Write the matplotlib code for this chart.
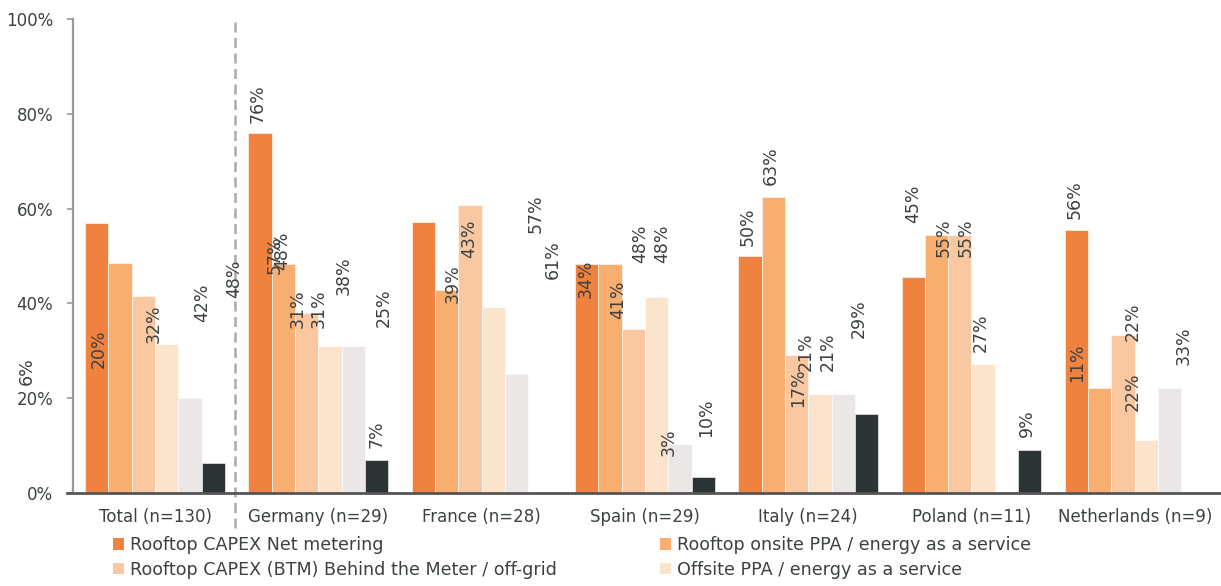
import matplotlib
matplotlib.use("Agg")
import matplotlib.pyplot as plt
import numpy as np
from matplotlib.patches import Patch

plt.rcParams.update({
    "font.family": ["DejaVu Sans"],
    "font.size": 12,
    "text.color": "#3c4144",
    "xtick.color": "#3c4144",
    "ytick.color": "#999999",
    "ytick.labelcolor": "#3c4144",
    "xtick.labelcolor": "#3c4144",
})

categories = ["Total (n=130)", "Germany (n=29)", "France (n=28)", "Spain (n=29)",
              "Italy (n=24)", "Poland (n=11)", "Netherlands (n=9)"]

# share of respondents (%) per category
capex_net = [56.9, 75.9, 57.1, 48.3, 50.0, 45.5, 55.6]
onsite_ppa = [48.5, 48.3, 42.9, 48.3, 62.5, 54.5, 22.2]
capex_btm = [41.5, 37.9, 60.7, 34.5, 29.2, 54.5, 33.3]
offsite_ppa = [31.5, 31.0, 39.3, 41.4, 20.8, 27.3, 11.1]
series5 = [20.0, 31.0, 25.0, 10.3, 20.8, 0.0, 22.2]
series6 = [6.2, 6.9, 0.0, 3.4, 16.7, 9.1, 0.0]

series_names = ["Rooftop CAPEX Net metering",
                "Rooftop onsite PPA / energy as a service",
                "Rooftop CAPEX (BTM) Behind the Meter / off-grid",
                "Offsite PPA / energy as a service",
                "", ""]

# value labels as they sit in the source picture (category units, %)
label_text = ["6%", "20%", "32%", "42%", "48%", "76%", "57%", "48%", "31%", "31%",
              "38%", "7%", "25%", "39%", "43%", "57%", "61%", "34%", "41%", "48%",
              "48%", "3%", "10%", "50%", "63%", "17%", "21%", "21%", "29%", "45%",
              "55%", "55%", "27%", "9%", "56%", "11%", "22%", "22%", "33%"]
label_x = [-0.786, -0.343, -0.006, 0.286, 0.482, 0.630, 0.730, 0.778, 0.871, 1.004,
           1.157, 1.358, 1.402, 1.821, 1.925, 2.331, 2.433, 2.639, 2.837, 2.970,
           3.107, 3.146, 3.372, 3.627, 3.772, 3.936, 3.985, 4.119, 4.311, 4.644,
           4.832, 4.964, 5.058, 5.342, 5.630, 5.648, 5.985, 5.985, 6.301]
label_y = [22.8, 26.3, 31.6, 36.1, 41.1, 78.2, 46.2, 47.1, 34.7, 34.7,
           41.8, 9.4, 35.1, 40.0, 49.5, 54.8, 45.1, 41.2, 36.6, 48.5,
           48.5, 7.8, 11.8, 52.1, 65.0, 18.2, 25.7, 25.8, 32.6, 57.0,
           49.9, 49.9, 29.8, 11.8, 57.8, 23.5, 32.1, 17.3, 27.0]

COLORS = ["#f0823f", "#f8ae6e", "#fac8a0", "#fce3cc", "#ebe7e7", "#2c3436"]

fig = plt.figure(figsize=(12.21, 5.86), dpi=100)
ax = fig.add_axes([67 / 1221, 1 - 492.8 / 586, 1 - 67 / 1221, (492.8 - 19.3) / 586])

all_series = [capex_net, onsite_ppa, capex_btm, offsite_ppa, series5, series6]
x = np.arange(len(categories))
w = 1 / 7
for i, vals in enumerate(all_series):
    ax.bar(x + (i - 2.5) * w, vals, width=w, color=COLORS[i],
           edgecolor="white", linewidth=0.4)

for t, lx, ly in zip(label_text, label_x, label_y):
    ax.text(lx, ly, t, rotation=90, ha="center", va="bottom", fontsize=12.5)

ax.axvline(0.49, ymin=-0.075, ymax=1.0, color="#aaaaaa", lw=1.8,
           linestyle=(0, (4, 2.2)), clip_on=False)

ax.set_xlim(-0.539, 6.528)
ax.set_ylim(0, 100)
ax.set_yticks(np.arange(0, 101, 20))
ax.set_yticklabels([f"{v}%" for v in range(0, 101, 20)])
ax.set_xticks(x)
ax.set_xticklabels(categories)
ax.tick_params(axis="x", length=0, pad=11)
ax.tick_params(axis="y", length=4, width=1.2, pad=10)

for s in ["top", "right"]:
    ax.spines[s].set_visible(False)
ax.spines["left"].set_position(("data", -0.504))
ax.spines["left"].set_color("#999999")
ax.spines["left"].set_linewidth(1.6)
ax.spines["bottom"].set_color("#555555")
ax.spines["bottom"].set_linewidth(2)

order = [0, 2, 1, 3]
handles = [Patch(facecolor=COLORS[i], edgecolor="none") for i in order]
labels = [series_names[i] for i in order]
fig.legend(handles, labels, ncol=2, loc="upper left", fontsize=12.6,
           bbox_to_anchor=(113 / 1221, 1 - 536 / 586), frameon=False,
           handlelength=0.63, handleheight=0.63, handletextpad=0.34,
           columnspacing=5.9, labelspacing=0.38, borderaxespad=0, borderpad=0)

fig.savefig("out.png", dpi=100)
